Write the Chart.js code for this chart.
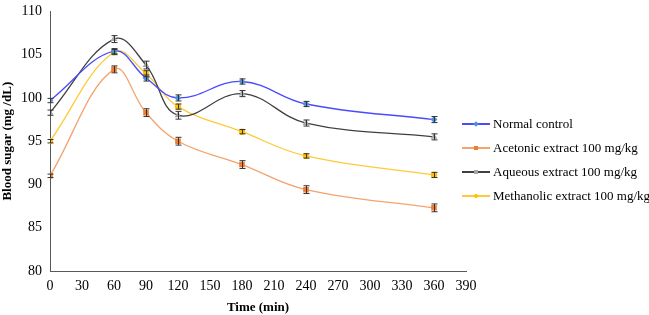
<html>
<head>
  <meta charset="UTF-8">
  <title>Blood sugar over time</title>
  <script src="https://cdn.jsdelivr.net/npm/chart.js"></script>
  <style>
    body { margin: 0; background: #fff; font-family: "Liberation Serif", serif; }
    #wrap { position: relative; width: 649px; height: 315px; }
    #legend { position: absolute; left: 462px; top: 112px; font-size: 13px; color: #000; }
    .item { height: 24px; display: flex; align-items: center; white-space: nowrap; }
    .sample { position: relative; width: 28px; height: 10px; margin-right: 3px; }
    .sample .ln { position: absolute; left: 0; right: 0; top: 4px; height: 1.5px; }
    .sample .mk { position: absolute; left: 12px; top: 3px; width: 4px; height: 4px; }
  </style>
</head>
<body>
  <div id="wrap">
    <canvas id="chart" width="649" height="315"></canvas>
    <div id="legend"></div>
  </div>

  <script>
    // --- Data ---
    const times       = [0, 60, 90, 120, 180, 240, 360];
    const normal      = [99.7, 105.4, 102.3, 100.0, 101.9, 99.3, 97.5];
    const acetonic    = [91.0, 103.3, 98.3, 95.0, 92.3, 89.4, 87.3];
    const aqueous     = [98.3, 106.8, 103.8, 98.0, 100.5, 97.1, 95.5];
    const methanolic  = [95.0, 105.3, 102.8, 99.0, 96.1, 93.3, 91.1];
    const normalErr     = [0.25, 0.3, 0.35, 0.35, 0.3, 0.3, 0.35];
    const acetonicErr   = [0.2, 0.4, 0.45, 0.45, 0.45, 0.45, 0.45];
    const aqueousErr    = [0.3, 0.4, 0.45, 0.45, 0.35, 0.35, 0.35];
    const methanolicErr = [0.2, 0.3, 0.35, 0.3, 0.25, 0.25, 0.3];
    const seriesNames = ['Normal control', 'Acetonic extract 100 mg/kg', 'Aqueous extract 100 mg/kg', 'Methanolic extract 100 mg/kg'];

    const styles = [
      { line: '#4a4aff', mark: '#4f8fd6', shape: 'rectRot', r: 2.5 },
      { line: '#f4a36e', mark: '#ed7d31', shape: 'rect', r: 3 },
      { line: '#404040', mark: '#a5a5a5', shape: 'triangle', r: 2.5 },
      { line: '#ffc93a', mark: '#ffc000', shape: 'circle', r: 2.5 }
    ];
    const values = [normal, acetonic, aqueous, methanolic];
    const errors = [normalErr, acetonicErr, aqueousErr, methanolicErr];

    const datasets = values.map((vals, i) => ({
      label: seriesNames[i],
      data: times.map((t, j) => ({ x: t, y: vals[j] })),
      errs: errors[i],
      borderColor: styles[i].line,
      backgroundColor: styles[i].mark,
      pointBackgroundColor: styles[i].mark,
      pointBorderColor: styles[i].mark,
      pointStyle: styles[i].shape,
      pointRadius: styles[i].r,
      borderWidth: 1.3,
      tension: 0.4,
      fill: false
    }));

    // --- Error bars drawn through the scales ---
    const errorBars = {
      id: 'errorBars',
      afterDatasetsDraw(chart) {
        const c = chart.ctx, ys = chart.scales.y, xs = chart.scales.x;
        c.save();
        c.strokeStyle = '#333';
        c.lineWidth = 1;
        chart.data.datasets.forEach(ds => {
          ds.data.forEach((p, j) => {
            const e = ds.errs[j];
            const x = Math.round(xs.getPixelForValue(p.x)) + 0.5;
            const y1 = ys.getPixelForValue(p.y + e), y2 = ys.getPixelForValue(p.y - e);
            c.beginPath();
            c.moveTo(x, y1); c.lineTo(x, y2);
            c.moveTo(x - 3, y1); c.lineTo(x + 3, y1);
            c.moveTo(x - 3, y2); c.lineTo(x + 3, y2);
            c.stroke();
          });
        });
        c.restore();
      }
    };

    const font = { family: 'Liberation Serif', size: 14 };

    new Chart(document.getElementById('chart'), {
      type: 'line',
      data: { datasets },
      plugins: [errorBars],
      options: {
        responsive: false,
        animation: false,
        layout: { padding: { top: 5, right: 183, left: 0, bottom: 0 } },
        plugins: { legend: { display: false }, tooltip: { enabled: false } },
        scales: {
          x: {
            type: 'linear', min: 0, max: 390,
            grid: { display: false, drawTicks: true, tickLength: 5, color: '#595959' },
            border: { color: '#595959' },
            ticks: { stepSize: 30, color: '#000', font, padding: 2, maxRotation: 0 },
            title: { display: true, text: 'Time (min)', color: '#000', font: { family: 'Liberation Serif', size: 13, weight: 'bold' }, padding: { top: 3, bottom: 0 } },
            afterFit(s) { s.height = 44; }
          },
          y: {
            min: 80, max: 110,
            grid: { display: false, drawTicks: true, tickLength: 5, color: '#595959' },
            border: { color: '#595959' },
            ticks: { stepSize: 5, color: '#000', font, padding: 3 },
            title: { display: true, text: 'Blood sugar (mg /dL)', color: '#000', font: { family: 'Liberation Serif', size: 13, weight: 'bold' }, padding: { top: 0, bottom: 2 } },
            afterFit(s) { s.width = 50; }
          }
        }
      }
    });

    // --- Legend ---
    const legend = document.getElementById('legend');
    seriesNames.forEach((name, i) => {
      const item = document.createElement('div');
      item.className = 'item';
      const round = styles[i].shape === 'circle' ? 'border-radius:50%;' : '';
      const rot = styles[i].shape === 'rectRot' ? 'transform:rotate(45deg);' : '';
      item.innerHTML = '<div class="sample"><div class="ln" style="background:' + styles[i].line + '"></div>' +
        '<div class="mk" style="background:' + styles[i].mark + ';' + round + rot + '"></div></div>' +
        '<span>' + name + '</span>';
      legend.appendChild(item);
    });
  </script>
</body>
</html>
